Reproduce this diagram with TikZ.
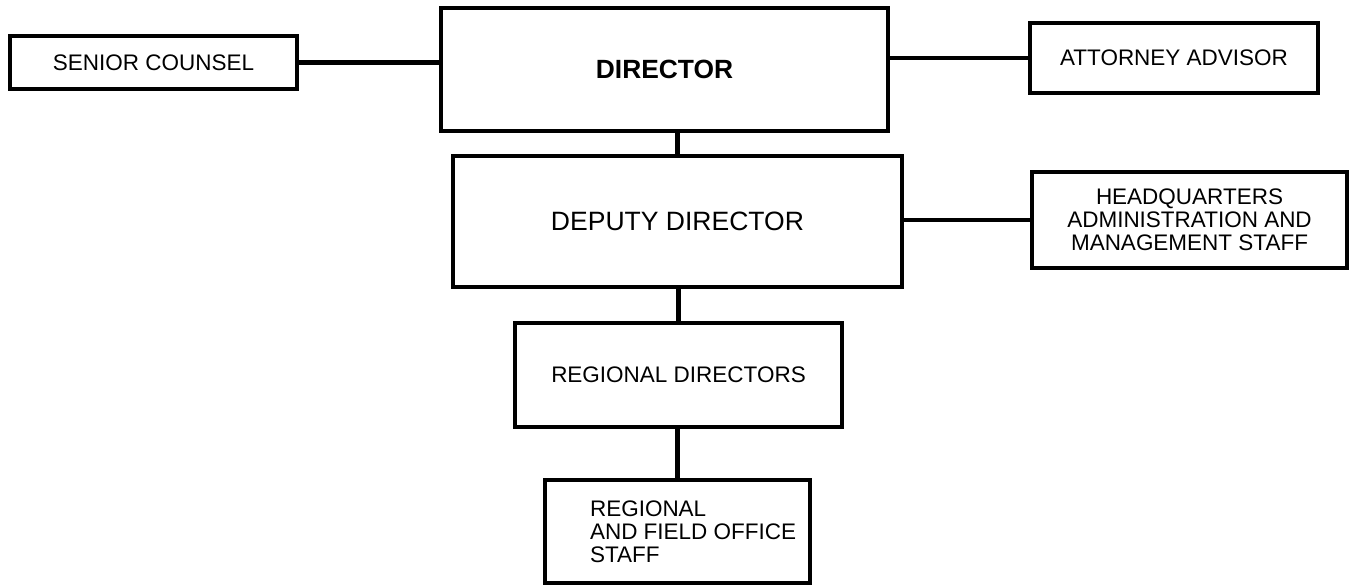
\documentclass[tikz,border=0pt]{standalone}
\usepackage{fontspec}
\setmainfont{Liberation Sans}
\def\linkwidth{2.6pt}

\begin{document}
\begin{tikzpicture}[x=0.02cm, y=-0.02cm, line width=2pt]
    \tikzstyle{office}=[draw=black, rectangle, inner sep=0pt, align=center, font=\fontsize{12.8}{13.1}\selectfont]
    \tikzstyle{head office}=[office, font=\fontsize{15.1}{16}\selectfont]
    \tikzstyle{link}=[line width=\linkwidth]

    \useasboundingbox (0,0) rectangle (1352,585);

    % Top row: director with counsel and advisor
    \node[head office, font=\fontsize{15}{16}\selectfont\bfseries, minimum width=8.94cm, minimum height=2.46cm] (dir) at (664.5,69.5) {DIRECTOR};
    \node[office, minimum width=5.74cm, minimum height=1.06cm] (sc) at (153.5,62.5) {SENIOR COUNSEL};
    \node[office, minimum width=5.76cm, minimum height=1.4cm] (aa) at (1174,58) {ATTORNEY ADVISOR};

    % Second row: deputy and headquarters staff
    \node[head office, minimum width=8.98cm, minimum height=2.62cm] (dep) at (677.5,221.5) {DEPUTY DIRECTOR};
    \node[office, minimum width=6.3cm, minimum height=1.92cm] (hq) at (1189.5,220) {HEADQUARTERS\\ADMINISTRATION AND\\MANAGEMENT STAFF};

    % Regional levels
    \node[office, minimum width=6.54cm, minimum height=2.08cm] (rd) at (678.5,375) {REGIONAL DIRECTORS};
    \node[office, minimum width=5.3cm, minimum height=2.06cm,
        label={[name=rfos-text, anchor=west, inner sep=0pt, align=left, xshift=0.9cm, font=\fontsize{12.8}{13.1}\selectfont]west:REGIONAL\\AND FIELD OFFICE\\STAFF}] (rfos) at (677.5,531.5) {};

    % Connect the offices
    \draw[link] (sc.east) -- (sc.east -| dir.west);
    \draw[link] (aa.west -| dir.east) -- (aa.west);
    \draw[link] (dep.north) -- (dep.north |- dir.south);
    \draw[link] (dep.east |- hq.west) -- (hq.west);
    \draw[link] (rd.north) -- (rd.north |- dep.south);
    \draw[link] (rfos.north) -- (rfos.north |- rd.south);
\end{tikzpicture}
\end{document}
